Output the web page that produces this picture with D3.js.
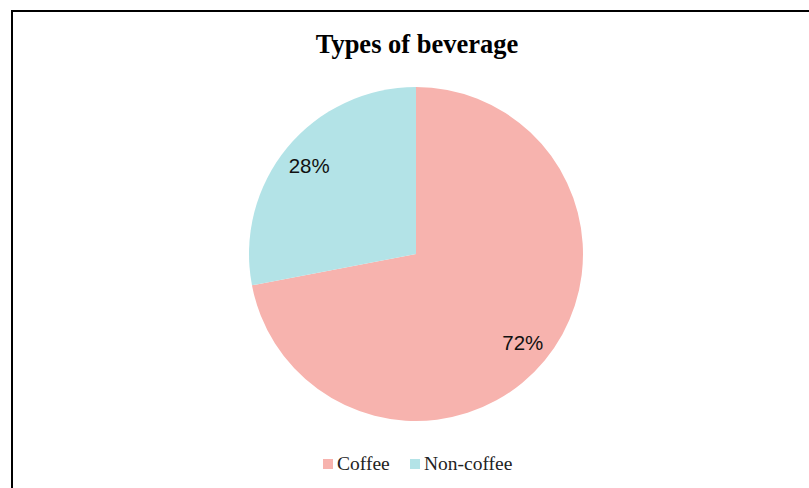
<!DOCTYPE html>
<html>
<head>
<meta charset="utf-8">
<script src="https://cdn.jsdelivr.net/npm/d3@7"></script>
<style>
  body { margin: 0; background: #fff; }
  svg { display: block; }
</style>
</head>
<body>
<script>
var width = 809;
var height = 488;
var categories = ["Coffee", "Non-coffee"];
var shares = [72, 28];
var colors = ["#f7b3ae", "#b3e3e7"];

var svg = d3.select("body")
  .append("svg")
  .attr("width", width)
  .attr("height", height);

// chart frame, runs off the right and bottom edge
svg.append("rect")
  .attr("x", 12)
  .attr("y", 11)
  .attr("width", width)
  .attr("height", height)
  .attr("fill", "white")
  .attr("stroke", "black")
  .attr("stroke-width", 2);

svg.append("text")
  .attr("x", 417)
  .attr("y", 53)
  .attr("text-anchor", "middle")
  .style("font-family", "'Liberation Serif', serif")
  .style("font-weight", "bold")
  .style("font-size", "26.5px")
  .text("Types of beverage");

var cx = 416, cy = 254, radius = 167;

var data = categories.map(function(c, i){
  return {name: c, value: shares[i], color: colors[i]};
});

var pie = d3.pie()
  .sort(null)
  .value(function(d){ return d.value; });

var arc = d3.arc()
  .innerRadius(0)
  .outerRadius(radius);

var labelArc = d3.arc()
  .innerRadius(radius * 0.83)
  .outerRadius(radius * 0.83);

var g = svg.append("g")
  .attr("transform", "translate(" + cx + "," + cy + ")");

g.selectAll(".slice")
  .data(pie(data))
  .enter()
  .append("path")
  .attr("class", "slice")
  .attr("d", arc)
  .attr("fill", function(d){ return d.data.color; });

g.selectAll(".label")
  .data(pie(data))
  .enter()
  .append("text")
  .attr("class", "label")
  .attr("transform", function(d){ return "translate(" + labelArc.centroid(d) + ")"; })
  .attr("text-anchor", "middle")
  .attr("dy", "0.36em")
  .style("font-family", "'Liberation Sans', Arial, sans-serif")
  .style("font-size", "20.5px")
  .attr("fill", "#111")
  .text(function(d){ return d.data.value + "%"; });

// legend
var legendX = [323, 410];
var legend = svg.selectAll(".legend")
  .data(data)
  .enter()
  .append("g")
  .attr("class", "legend")
  .attr("transform", function(d, i){ return "translate(" + legendX[i] + ",459)"; });

legend.append("rect")
  .attr("width", 10)
  .attr("height", 10)
  .attr("fill", function(d){ return d.color; });

legend.append("text")
  .attr("x", 14)
  .attr("y", 11)
  .style("font-family", "'Liberation Serif', serif")
  .style("font-size", "19.5px")
  .attr("fill", "#222")
  .text(function(d){ return d.name; });
</script>
</body>
</html>
